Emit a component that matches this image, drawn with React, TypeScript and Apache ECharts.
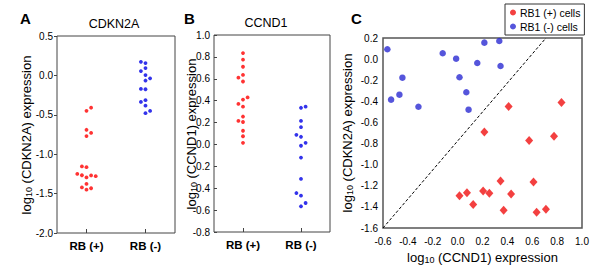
import React, { useEffect, useRef } from "react";
import * as echarts from "echarts";

// ---- data ----
const categories = ["RB (+)", "RB (-)"];

// RB1 (+) cells: paired values
const redCCND1 = [0.835, 0.41, 0.215, 0.775, 0.575, 0.345, 0.61, 0.015, 0.075, 0.125, 0.205, 0.255, 0.43, 0.37, 0.635, 0.71];
const redCDKN2A = [-0.41, -0.45, -0.69, -0.73, -0.77, -1.155, -1.165, -1.295, -1.267, -1.377, -1.25, -1.27, -1.279, -1.432, -1.45, -1.422];
// dot-plot column (jitter) index in panels A and B
const redColA = [1, 0, 0, 1, 0, -1, 0, 0, -1, 0, -2, 1, 2, 1, 0, -1];
const redColB = [0, 0, -1, 0, 0, 0, -1, 0, 0, 0, 0, 0, 1, -1, 0, 0];

// RB1 (-) cells: paired values
const blueCCND1 = [0.215, 0.335, -0.12, -0.012, 0.158, 0.345, -0.444, 0.015, 0.07, -0.468, -0.535, -0.315, 0.088, -0.565];
const blueCDKN2A = [0.156, 0.172, 0.055, 0.004, -0.037, -0.065, -0.176, -0.172, -0.314, -0.337, -0.384, -0.451, -0.479, 0.093];
const blueColA = [0, -1, -1, 0, 1, 0, 0, -1, 0, -1, 0, 1, 0, 0];
const blueColB = [0, 0, 0, 0, 0, 1, -1, 1, 0, 0, 1, 0, -1, 0];

// reference diagonal in panel C
const diagonal = [
  [-0.6, -1.6],
  [0.71, 0.2],
];

// tick labels of panel B (as printed)
const bTickLabels = ["1.0", "0.8", "0.6", "0.4", "0.2", "0.0", "0.2", "0.4", "-0.6", "-0.8"];

const legendNames = ["RB1 (+) cells", "RB1 (-) cells"];

// ---- styles ----
const FONT = "Liberation Sans, Arial, sans-serif";
const RED = "#ff0000";
const BLUE = "#0000e6";
const C_RED = "#f01010";
const C_BLUE = "#2a2ad2";
const COL_STEP = 4.6;

function nameRich(gene: string) {
  return `{a|log}{s|10}{a| (${gene}) expression}`;
}
const richDef = {
  a: { fontFamily: FONT, fontSize: 13, fill: "#000", color: "#000" },
  s: { fontFamily: FONT, fontSize: 9, fill: "#000", color: "#000", verticalAlign: "bottom", padding: [5, 0, 0, 0] },
};
const nameStyle = { fontFamily: FONT, fontSize: 13, color: "#000", rich: richDef };

function yName(gene: string, x: number, y: number) {
  return {
    type: "text",
    x,
    y,
    rotation: Math.PI / 2,
    style: {
      text: nameRich(gene),
      rich: richDef,
      font: `13px ${FONT}`,
      fill: "#000",
      align: "center",
      verticalAlign: "middle",
    },
  };
}

function dots(values: number[], cols: number[], cat: number) {
  return values.map((v, i) => ({
    value: [cat, v],
    symbolOffset: [cols[i] * COL_STEP, 0],
  }));
}

export default function App() {
  const ref = useRef<HTMLDivElement>(null);
  useEffect(() => {
    if (!ref.current) return;
    const chart = echarts.init(ref.current, undefined, { renderer: "svg" });
    const tickLabel = { fontFamily: FONT, fontSize: 10, color: "#000" };
    const catLabel = { fontFamily: FONT, fontSize: 11.5, fontWeight: "bold", color: "#000", margin: 7 };
    const gridBorder = { show: true, borderColor: "#444", borderWidth: 1, backgroundColor: "transparent" };
    const noLine = { show: false, onZero: false };

    const option: any = {
      animation: false,
      grid: [
        { left: 57, top: 36, width: 118, height: 197, ...gridBorder },
        { left: 214, top: 35, width: 116, height: 197, ...gridBorder },
        { left: 383, top: 38, width: 199, height: 190, ...gridBorder, borderColor: "#555", borderWidth: 1.5 },
      ],
      legend: {
        data: legendNames,
        orient: "vertical",
        left: 505,
        top: 4,
        padding: [3, 4, 3, 5],
        itemGap: 3,
        itemWidth: 6,
        itemHeight: 6,
        icon: "circle",
        borderColor: "#333",
        borderWidth: 1,
        borderRadius: 0,
        selectedMode: false,
        textStyle: { fontFamily: FONT, fontSize: 10.5, color: "#000", padding: [0, 0, 0, -1] },
      },
      xAxis: [
        {
          gridIndex: 0,
          type: "category",
          data: categories,
          boundaryGap: true,
          axisLine: noLine,
          axisTick: { show: true, inside: true, length: 4, alignWithLabel: true, lineStyle: { color: "#444" } },
          axisLabel: catLabel,
          splitLine: { show: false },
        },
        {
          gridIndex: 1,
          type: "category",
          data: categories,
          boundaryGap: true,
          axisLine: noLine,
          axisTick: { show: true, inside: true, length: 4, alignWithLabel: true, lineStyle: { color: "#444" } },
          axisLabel: catLabel,
          splitLine: { show: false },
        },
        {
          gridIndex: 2,
          type: "value",
          min: -0.6,
          max: 1.0,
          interval: 0.2,
          axisLine: noLine,
          axisTick: { show: false },
          axisLabel: { ...tickLabel, margin: 8, formatter: (v: number) => v.toFixed(1) },
          splitLine: { show: false },
          name: nameRich("CCND1"),
          nameLocation: "middle",
          nameGap: 21,
          nameTextStyle: nameStyle,
        },
      ],
      yAxis: [
        {
          gridIndex: 0,
          type: "value",
          min: -2.0,
          max: 0.5,
          interval: 0.5,
          axisLine: noLine,
          axisTick: { show: true, length: 3, lineStyle: { color: "#444" } },
          axisLabel: { ...tickLabel, margin: 4, formatter: (v: number) => v.toFixed(1) },
          splitLine: { show: false },
        },
        {
          gridIndex: 1,
          type: "value",
          min: -0.8,
          max: 1.0,
          interval: 0.2,
          axisLine: noLine,
          axisTick: { show: true, inside: true, length: 3, lineStyle: { color: "#444" } },
          axisLabel: {
            ...tickLabel,
            margin: 4,
            formatter: (v: number) => bTickLabels[Math.round((1.0 - v) / 0.2)] ?? "",
          },
          splitLine: { show: false },
        },
        {
          gridIndex: 2,
          type: "value",
          min: -1.6,
          max: 0.2,
          interval: 0.2,
          axisLine: noLine,
          axisTick: { show: false },
          axisLabel: { ...tickLabel, margin: 5, formatter: (v: number) => v.toFixed(1) },
          splitLine: { show: false },
        },
      ],
      graphic: [
        { type: "text", left: 20, top: 11, style: { text: "A", font: `bold 15px ${FONT}`, fill: "#000" } },
        { type: "text", left: 184, top: 11, style: { text: "B", font: `bold 15px ${FONT}`, fill: "#000" } },
        { type: "text", left: 351, top: 11, style: { text: "C", font: `bold 15px ${FONT}`, fill: "#000" } },
        { type: "text", x: 114, y: 24, style: { text: "CDKN2A", font: `12.5px ${FONT}`, fill: "#000", align: "center", verticalAlign: "middle" } },
        { type: "text", x: 266, y: 23, style: { text: "CCND1", font: `12.5px ${FONT}`, fill: "#000", align: "center", verticalAlign: "middle" } },
        yName("CDKN2A", 26, 135),
        yName("CCND1", 191, 134),
        yName("CDKN2A", 347, 133),
      ],
      series: [
        {
          name: "A+",
          type: "scatter",
          xAxisIndex: 0,
          yAxisIndex: 0,
          symbol: "circle",
          symbolSize: 3.8,
          itemStyle: { color: RED },
          data: dots(redCDKN2A, redColA, 0),
        },
        {
          name: "A-",
          type: "scatter",
          xAxisIndex: 0,
          yAxisIndex: 0,
          symbol: "circle",
          symbolSize: 3.8,
          itemStyle: { color: BLUE },
          data: dots(blueCDKN2A, blueColA, 1),
        },
        {
          name: "B+",
          type: "scatter",
          xAxisIndex: 1,
          yAxisIndex: 1,
          symbol: "circle",
          symbolSize: 3.8,
          itemStyle: { color: RED },
          data: dots(redCCND1, redColB, 0),
        },
        {
          name: "B-",
          type: "scatter",
          xAxisIndex: 1,
          yAxisIndex: 1,
          symbol: "circle",
          symbolSize: 3.8,
          itemStyle: { color: BLUE },
          data: dots(blueCCND1, blueColB, 1),
        },
        {
          name: legendNames[0],
          type: "scatter",
          xAxisIndex: 2,
          yAxisIndex: 2,
          symbol: "diamond",
          symbolSize: [8, 9],
          itemStyle: { color: C_RED },
          data: redCCND1.map((x, i) => [x, redCDKN2A[i]]),
          markLine: {
            silent: true,
            symbol: "none",
            label: { show: false },
            lineStyle: { color: "#000", width: 1, type: [3, 2] },
            data: [[{ coord: diagonal[0] }, { coord: diagonal[1] }]],
          },
        },
        {
          name: legendNames[1],
          type: "scatter",
          xAxisIndex: 2,
          yAxisIndex: 2,
          symbol: "circle",
          symbolSize: 6.5,
          itemStyle: { color: C_BLUE },
          data: blueCCND1.map((x, i) => [x, blueCDKN2A[i]]),
        },
      ],
    };
    chart.setOption(option);
    return () => chart.dispose();
  }, []);

  return (
    <div
      ref={ref}
      style={{ position: "fixed", left: 0, top: 0, width: 600, height: 271, background: "#fff" }}
    />
  );
}
